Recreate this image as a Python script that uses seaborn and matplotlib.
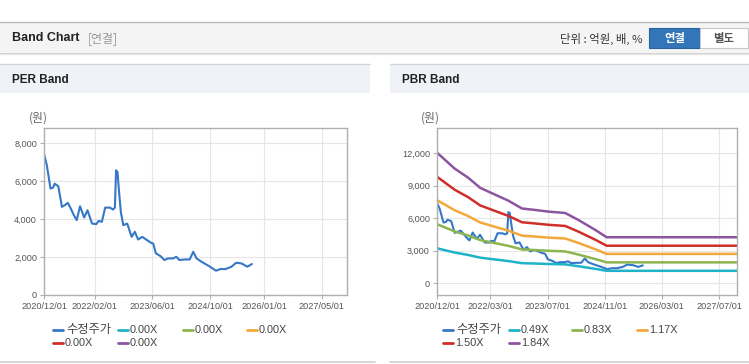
import matplotlib
matplotlib.use("Agg")
import matplotlib.pyplot as plt
from matplotlib.patches import Rectangle
from matplotlib.lines import Line2D
import seaborn as sns
import pandas as pd

# ---------------- data ----------------
price_dates = ["2020-12-01", "2020-12-25", "2021-01-25", "2021-02-15", "2021-03-01", "2021-04-01",
               "2021-05-01", "2021-05-25", "2021-06-20", "2021-07-15", "2021-08-10", "2021-09-03",
               "2021-10-01", "2021-11-05", "2021-12-03", "2022-01-10", "2022-02-15", "2022-03-07",
               "2022-04-03", "2022-05-01", "2022-06-10", "2022-07-07", "2022-07-22", "2022-08-01",
               "2022-08-13", "2022-08-25", "2022-09-10", "2022-10-01", "2022-11-03", "2022-12-10",
               "2023-01-06", "2023-02-03", "2023-03-10", "2023-04-19", "2023-05-22", "2023-06-10",
               "2023-07-03", "2023-08-10", "2023-09-13", "2023-10-13", "2023-11-25", "2023-12-22",
               "2024-01-18", "2024-03-01", "2024-04-13", "2024-05-13", "2024-06-10", "2024-07-22",
               "2024-09-18", "2024-11-21", "2024-12-28", "2025-02-09", "2025-04-01", "2025-05-10",
               "2025-06-25", "2025-08-12", "2025-09-20"]
price_values = [7440, 6825, 5600, 5650, 5860, 5720,
                4640, 4725, 4850, 4550, 4200, 3940,
                4670, 4080, 4460, 3760, 3730, 3900,
                3850, 4600, 4600, 4500, 4600, 6560,
                6475, 5510, 4375, 3675, 3760, 3060,
                3325, 2920, 3060, 2890, 2750, 2710,
                2190, 2050, 1840, 1925, 1925, 2010,
                1840, 1870, 1870, 2275, 1925, 1750,
                1540, 1280, 1365, 1365, 1490, 1700,
                1660, 1490, 1630]

bps_dates = ["2020-12-01", "2021-05-01", "2021-08-22", "2021-12-04", "2022-04-07", "2022-08-01",
             "2022-11-25", "2023-03-13", "2023-07-07", "2023-11-28", "2024-03-20", "2024-08-13",
             "2024-11-15", "2027-12-01"]
bps_values = [6555, 5750, 5300, 4785, 4450, 4140,
              3745, 3675, 3590, 3520, 3168, 2660,
              2300, 2300]

pbr_multiples = [0.49, 0.83, 1.17, 1.50, 1.84]
pbr_labels = ["0.49X", "0.83X", "1.17X", "1.50X", "1.84X"]
per_labels = ["0.00X", "0.00X", "0.00X", "0.00X", "0.00X"]
price_label = "수정주가"

per_xticks = ["2020-12-01", "2022-02-01", "2023-06-01", "2024-10-01", "2026-01-01", "2027-05-01"]
pbr_xticks = ["2020-12-01", "2022-03-01", "2023-07-01", "2024-11-01", "2026-03-01", "2027-07-01"]
per_yticks = [0, 2000, 4000, 6000, 8000]
pbr_yticks = [0, 3000, 6000, 9000, 12000]

# ---------------- styles ----------------
price_color = "#3577c8"
band_colors = ["#1fb3c8", "#8cb54f", "#f2a93b", "#cf2f2a", "#8d559f"]
KR = ["Noto Sans CJK KR", "DejaVu Sans"]

sns.set_style("white")
plt.rcParams["font.family"] = ["Liberation Sans", "Noto Sans CJK KR", "DejaVu Sans"]

W, H = 749, 364
fig = plt.figure(figsize=(W / 100, H / 100), dpi=100)
fig.patch.set_facecolor("white")


def fx(px):
    return px / W


def fy(py):
    return 1 - py / H


def frect(x0, y0, x1, y1, **kw):
    fig.patches.append(Rectangle((fx(x0), fy(y1)), fx(x1) - fx(x0), fy(y0) - fy(y1),
                                 transform=fig.transFigure, **kw))


def fline(x0, y0, x1, y1, **kw):
    fig.add_artist(Line2D([fx(x0), fx(x1)], [fy(y0), fy(y1)], transform=fig.transFigure, **kw))


def ftext(x, y, s, **kw):
    fig.text(fx(x), fy(y), s, **kw)


# header bar
fline(0, 22, W, 22, color="#b8b8b8", lw=1)
frect(0, 22.5, W, 52, facecolor="#f4f4f4", edgecolor="none")
fline(0, 53, W, 53, color="#cfcfcf", lw=1)
fline(0, 54, W, 54, color="#e6e6e6", lw=1)
ftext(12, 38, "Band Chart", fontsize=9.0, fontweight="bold", color="#222222", va="center")
ftext(88, 38.5, "[연결]", fontsize=8.6, color="#999999", va="center", family=KR)
ftext(643, 38.5, "단위 : 억원, 배, %", fontsize=8.2, color="#333333", va="center", ha="right",
      family=KR)
frect(649, 28.5, 700, 47.5, facecolor="#3275b9", edgecolor="#2a629e", lw=0.8)
frect(700, 28.5, 748, 47.5, facecolor="white", edgecolor="#c8c8c8", lw=0.8)
ftext(674.5, 38.5, "연결", fontsize=8.2, fontweight="bold", color="white", va="center",
      ha="center", family=KR)
ftext(724, 38.5, "별도", fontsize=8.2, fontweight="bold", color="#555555", va="center",
      ha="center", family=KR)

# panel headers
for x0, x1, title, tx in [(0, 370, "PER Band", 12), (390, W, "PBR Band", 402)]:
    fline(x0, 64, x1, 64, color="#d5d5d5", lw=1)
    frect(x0, 64.5, x1, 93, facecolor="#eff2f7", edgecolor="none")
    ftext(tx, 80, title, fontsize=8.5, fontweight="bold", color="#222222", va="center")
fline(0, 362, 375, 362, color="#d0d0d0", lw=1.2)
fline(390, 362, W, 362, color="#d0d0d0", lw=1.2)

# ---------------- axes ----------------
pdates = pd.to_datetime(price_dates)
price_df = pd.DataFrame({"date": pdates, "value": price_values})

rows = []
for lab, m in zip(pbr_labels, pbr_multiples):
    for d, b in zip(bps_dates, bps_values):
        rows.append({"date": pd.Timestamp(d), "value": b * m, "band": lab})
band_df = pd.DataFrame(rows)

xlim = (pd.Timestamp("2020-12-01"), pd.Timestamp("2027-12-01"))


def style_axes(ax, yticks, ylim, xticks):
    ax.set_xlim(*xlim)
    ax.set_ylim(*ylim)
    ax.set_yticks(yticks)
    ax.set_yticklabels([f"{v:,}" for v in yticks])
    xt = pd.to_datetime(xticks)
    ax.set_xticks(xt)
    ax.set_xticklabels([d.strftime("%Y/%m/%d") for d in xt])
    ax.grid(True, color="#e6e6e6", lw=0.8)
    ax.set_axisbelow(True)
    for s in ax.spines.values():
        s.set_color("#b0b0b0")
        s.set_linewidth(1)
    ax.tick_params(axis="both", which="major", length=3, width=0.8, color="#b0b0b0",
                   labelsize=6.6, labelcolor="#555555", pad=2, bottom=True, left=True)
    ax.set_xlabel("")
    ax.set_ylabel("")


ax1 = fig.add_axes([fx(44), fy(295), fx(347) - fx(44), fy(128) - fy(295)])
sns.lineplot(data=price_df, x="date", y="value", ax=ax1, color=price_color, lw=1.5)
style_axes(ax1, per_yticks, (0, 8790), per_xticks)

ax2 = fig.add_axes([fx(437), fy(295), fx(737) - fx(437), fy(128) - fy(295)])
sns.lineplot(data=price_df, x="date", y="value", ax=ax2, color=price_color, lw=1.5)
sns.lineplot(data=band_df, x="date", y="value", hue="band", palette=band_colors,
             hue_order=pbr_labels, ax=ax2, lw=1.8, legend=False)
style_axes(ax2, pbr_yticks, (-1110, 14340), pbr_xticks)

ftext(29, 118, "(원)", fontsize=8.6, color="#666666", va="center", family=KR)
ftext(421, 118, "(원)", fontsize=8.6, color="#666666", va="center", family=KR)

# ---------------- legends ----------------
def legend(entries, positions):
    for (lab, col), (mx, my) in zip(entries, positions):
        fline(mx, my, mx + 10, my, color=col, lw=2)
        if lab == price_label:
            ftext(mx + 13, my, lab, fontsize=8.8, color="#444444", va="center", family=KR)
        else:
            ftext(mx + 12, my, lab, fontsize=7.8, color="#444444", va="center",
                  family=["Liberation Sans", "DejaVu Sans"])


left_entries = [(price_label, price_color)] + list(zip(per_labels, band_colors))
right_entries = [(price_label, price_color)] + list(zip(pbr_labels, band_colors))
legend(left_entries, [(53, 330), (118, 330), (183, 330), (247, 330), (53, 343), (118, 343)])
legend(right_entries, [(443, 330), (509, 330), (572, 330), (637, 330), (443, 343), (509, 343)])

fig.savefig("out.png", dpi=100, facecolor="white")
